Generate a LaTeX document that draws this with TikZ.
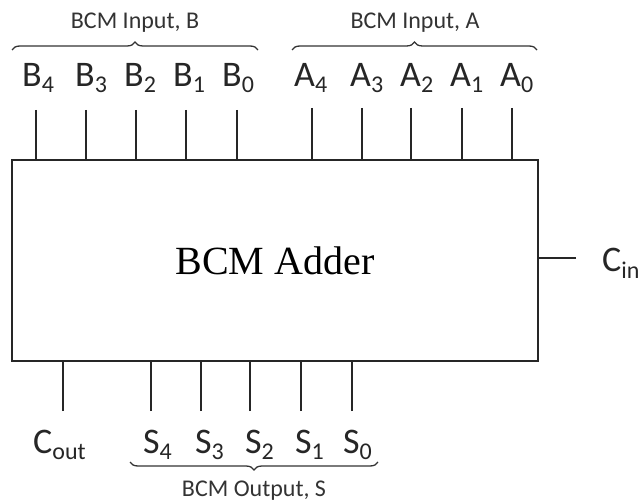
\documentclass[tikz,border=0pt]{standalone}
\usepackage{fontspec}
\setmainfont{Carlito}
\newfontfamily\serifface{Liberation Serif}
\usetikzlibrary{decorations.pathreplacing}

% lowered index digits for the pin names
\newcommand{\pinidx}[1]{\raisebox{-6pt}{\fontsize{24}{26}\selectfont #1}}

\begin{document}
\begin{tikzpicture}[x=1pt,y=-1pt,
  wire/.style={line width=2pt, color=black!85},
  pinlabel/.style={anchor=base west, inner sep=0pt, font=\fontsize{36}{40}\selectfont, text=black!85},
  grouplabel/.style={anchor=base, inner sep=0pt, font=\fontsize{24}{28}\selectfont, text=black!80},
  bracket/.style={decorate, decoration={brace, amplitude=8pt}, line width=1.3pt, color=black!80},
]
\useasboundingbox (0,0) rectangle (644,502);

% adder block
\node[draw=black!85, line width=2.6pt, minimum width=526pt, minimum height=201pt,
      inner sep=0pt, font=\serifface\fontsize{40}{46}\selectfont] (adder)
      at (275,260.5) {BCM Adder};

% operand B inputs
\foreach \n/\x/\o in {4/36/14,3/86/11,2/136/12,1/186/13,0/237/15}{
  \coordinate (b\n) at (\x,110);
  \draw[wire] (b\n) -- (b\n |- adder.north);
  \node[pinlabel] (lb\n) at (\x-\o,87) {B\pinidx{\n}};
}
% operand A inputs
\foreach \n/\x/\o in {4/312/18,3/362/12,2/411/11,1/462/12,0/512/12}{
  \coordinate (a\n) at (\x,108);
  \draw[wire] (a\n) -- (a\n |- adder.north);
  \node[pinlabel] (la\n) at (\x-\o,87) {A\pinidx{\n}};
}
% sum outputs
\foreach \n/\x/\o in {4/151/8,3/201/6,2/250/5,1/301/6,0/352/9}{
  \coordinate (s\n) at (\x,411);
  \draw[wire] (s\n) -- (s\n |- adder.south);
  \node[pinlabel] (ls\n) at (\x-\o,453) {S\pinidx{\n}};
}
% carry out
\coordinate (cout) at (63,411);
\draw[wire] (cout) -- (cout |- adder.south);
\node[pinlabel] (lcout) at (33,453) {C\pinidx{out}};

% carry in
\coordinate (cin) at (576,258);
\draw[wire] (cin) -- (cin -| adder.east);
\node[pinlabel] (lcin) at (602,272) {C\pinidx{in}};

% group braces
\coordinate (bl) at (12,50);  \coordinate (br) at (258,50);
\draw[bracket] (bl) -- (br);
\node[grouplabel] (gb) at (135,29) {BCM Input, B};

\coordinate (al) at (292,50); \coordinate (ar) at (537,50);
\draw[bracket] (al) -- (ar);
\node[grouplabel] (ga) at (415,29) {BCM Input, A};

\coordinate (sl) at (130,462); \coordinate (sr) at (378,462);
\draw[bracket] (sr) -- (sl);
\node[grouplabel] (gs) at (254,496) {BCM Output, S};
\end{tikzpicture}
\end{document}
